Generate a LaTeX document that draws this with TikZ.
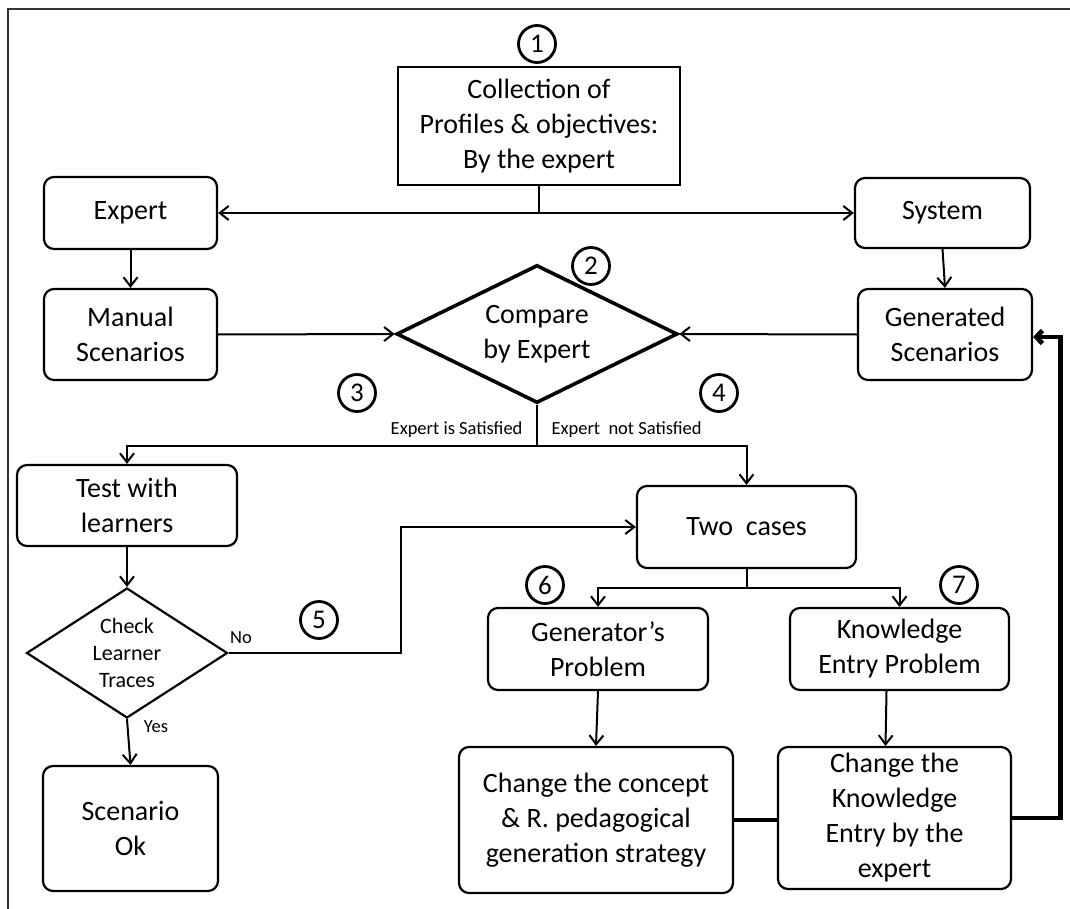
\documentclass[tikz,border=0pt]{standalone}
\usepackage{fontspec}
\setmainfont{Carlito}
\usetikzlibrary{shapes.geometric, arrows.meta}

\newcommand{\boxfont}{\fontsize{28}{35}\selectfont}
\newcommand{\checkfont}{\fontsize{22}{27}\selectfont}
\newcommand{\labfont}{\fontsize{18.5}{22}\selectfont}
\newcommand{\numfont}{\fontsize{27}{28}\selectfont}

\begin{document}
\begin{tikzpicture}[x=1pt, y=-1pt,
    >={Straight Barb[length=9pt,width=14pt]},
    flowbox/.style={draw, line width=2.2pt, rounded corners=10pt, align=center, font=\boxfont, inner sep=0pt},
    sqbox/.style={draw, line width=2.2pt, align=center, font=\boxfont, inner sep=0pt},
    numcirc/.style={draw, circle, line width=2.8pt, minimum size=37pt, inner sep=0pt, font=\numfont},
    link/.style={line width=2pt},
    feedback/.style={line width=4.8pt, >={Straight Barb[length=6pt,width=13pt]}}]

            \useasboundingbox (0,0) rectangle (1070,909);

            % Frame
            \draw[line width=1.6pt, black!80] (1070,9) -- (8,9) -- (8,909);

            % --------------------------------------------------
            % Top: collection, expert and system
            % --------------------------------------------------
            \node[numcirc] (num1) at (537,44) {1};
            \node[sqbox, minimum width=282pt, minimum height=118pt] (collect) at (539,126)
                {Collection of\\Profiles \& objectives:\\By the expert};
            \node[flowbox, minimum width=173pt, minimum height=72pt] (expert) at (130.5,213) {Expert};
            \node[flowbox, minimum width=175pt, minimum height=70pt] (system) at (942.5,213) {System};
            \node[flowbox, minimum width=173pt, minimum height=91pt] (manual) at (130.5,334.5) {Manual\\Scenarios};
            \node[flowbox, minimum width=174pt, minimum height=91pt] (generated) at (945,334.5) {Generated\\Scenarios};

            \draw[link, ->] (collect.south) |- (expert.east);
            \draw[link, ->] (collect.south) |- (system.west);
            \draw[link, ->] (expert.south) -- (manual.north);
            \draw[link, ->] (system.south) -- (generated.north);

            % --------------------------------------------------
            % Comparison by the expert
            % --------------------------------------------------
            \node[draw, diamond, aspect=2, line width=3.6pt, inner sep=0pt, minimum width=281pt,
                minimum height=138pt, align=center, font=\boxfont] (compare) at (537,334)
                {Compare\\by Expert};
            \node[numcirc] (num2) at (591,266) {2};
            \node[numcirc] (num3) at (357,393) {3};
            \node[numcirc] (num4) at (719,393) {4};

            \draw[link, ->] (manual.east) -- (compare.west);
            \draw[link, ->] (generated.west) -- (compare.east);

            % --------------------------------------------------
            % Left branch: expert is satisfied
            % --------------------------------------------------
            \node[flowbox, minimum width=220pt, minimum height=81pt] (test) at (127,505.5) {Test with\\learners};
            \node[draw, diamond, aspect=1.55, line width=2.2pt, inner sep=0pt, minimum width=201pt,
                minimum height=130pt, align=center, font=\checkfont] (check) at (127,653)
                {Check\\Learner\\Traces};
            \node[flowbox, minimum width=175pt, minimum height=125pt] (scenok) at (130.5,828.5) {Scenario\\Ok};
            \node[numcirc] (num5) at (319,620) {5};

            \draw[link, ->] (compare.south) -- ++(0,41) -| (test.north);
            \node[font=\labfont, anchor=base east] (satis) at ([xshift=-11pt,yshift=-30pt]compare.south)
                {Expert is Satisfied};
            \draw[link, ->] (test.south) -- (check.north);
            \draw[link, ->] (check.south) -- (scenok.north);
            \node[font=\labfont] (yes) at (156,727) {Yes};
            \node[font=\labfont] (no) at (241,638) {No};

            % --------------------------------------------------
            % Right branch: expert not satisfied
            % --------------------------------------------------
            \node[flowbox, minimum width=219pt, minimum height=82pt] (twocases) at (746.5,527) {Two\ \ cases};
            \node[flowbox, minimum width=220pt, minimum height=82pt] (genprob) at (598,649) {Generator’s\\Problem};
            \node[flowbox, minimum width=219pt, minimum height=82pt] (knowprob) at (899.5,649) {Knowledge\\Entry Problem};
            \node[flowbox, minimum width=274pt, minimum height=146pt] (concept) at (596,820)
                {Change the concept\\\& R. pedagogical\\generation strategy};
            \node[flowbox, minimum width=233pt, minimum height=142pt] (changek) at (894.5,818)
                {Change the\\Knowledge\\Entry by the\\expert};
            \node[numcirc] (num6) at (545,585) {6};
            \node[numcirc] (num7) at (959,585) {7};

            \draw[link, ->] (compare.south) -- ++(0,41) -| (twocases.north);
            \node[font=\labfont, anchor=base west] (notsatis) at ([xshift=11pt,yshift=-30pt]compare.south)
                {Expert\ \ not Satisfied};
            \draw[link, ->] (check.east) -- ++(172,0) |- (twocases.west);
            \draw[link, ->] (twocases.south) -- ++(0,19) -| (genprob.north);
            \draw[link, ->] (twocases.south) -- ++(0,19) -| (knowprob.north);
            \draw[link, ->] (genprob.south) -- (concept.north);
            \draw[link, ->] ([xshift=-13pt]knowprob.south) -- ([xshift=-9pt]changek.north);

            % Feedback to the generated scenarios
            \draw[feedback] (concept.east) -- (concept.east -| changek.west);
            \draw[feedback, ->] (changek.east) -- ++(48,0) |- ([yshift=-2.5pt]generated.east);

        \end{tikzpicture}
\end{document}
